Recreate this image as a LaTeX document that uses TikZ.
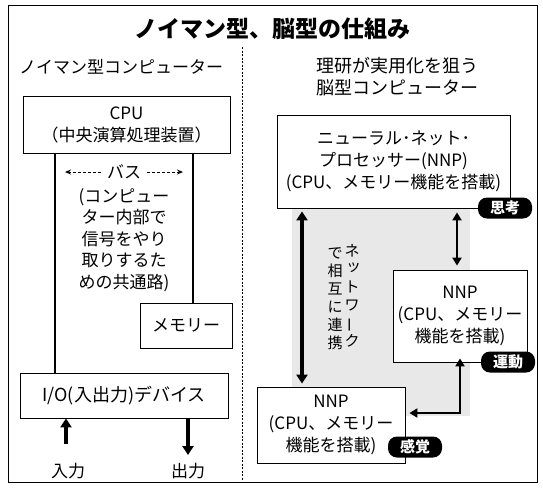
\documentclass[tikz,border=0pt]{standalone}
\usepackage{fontspec}
\setmainfont{Noto Sans CJK JP}
\usetikzlibrary{arrows.meta}
\begin{document}
\begin{tikzpicture}[x=1pt,y=-1pt,
  box/.style={draw,line width=0.8pt,fill=white,align=center,inner sep=0pt,font=\fontsize{17}{22}\selectfont},
  plain/.style={align=center,inner sep=0pt},
  badge/.style={fill=black,text=white,rounded corners=9pt,minimum width=54pt,minimum height=21pt,inner sep=0pt,font=\bfseries\fontsize{15}{15}\selectfont},
  busline/.style={line width=2pt},
  thinarrow/.style={line width=1pt,dash pattern=on 3pt off 2pt,-{Stealth[length=6pt,width=5pt]}},
  thickarrow/.style={line width=3.5pt,-{Triangle[length=9pt,width=11pt]}},
  dblarrow/.style={line width=3.5pt,{Triangle[length=9pt,width=11pt]}-{Triangle[length=9pt,width=11pt]}},
  dblarrowthin/.style={line width=2.5pt,{Triangle[length=8pt,width=9pt]}-{Triangle[length=8pt,width=9pt]}}]
\useasboundingbox (0,0) rectangle (543,491);
\fill[white] (0,0) rectangle (543,491);
% stipple region
\fill[black!9] (292,209) rectangle (470,416);
% frame
\draw[line width=0.9pt] (8,5) rectangle (537,482);
\draw[line width=1pt,dash pattern=on 2pt off 1.5pt] (242,47) -- (242,480);
% title and headings
\node[plain,font=\bfseries\fontsize{23}{23}\selectfont] (title) at (272,29) {ノイマン型、脳型の仕組み};
\node[plain,font=\fontsize{17}{17}\selectfont] (lhead) at (121,67) {ノイマン型コンピューター};
\node[plain,font=\fontsize{18}{22}\selectfont] (rhead) at (397,77) {理研が実用化を狙う\\脳型コンピューター};
% left side
\node[box,minimum width=207pt,minimum height=57pt] (cpu) at (126.5,124.5) {CPU\\（中央演算処理装置）};
\node[box,minimum width=92pt,minimum height=45pt] (mem) at (186,325.5) {メモリー};
\node[box,minimum width=208pt,minimum height=45pt,font=\fontsize{18}{22}\selectfont] (io) at (124,395.5) {I/O(入出力)デバイス};
\coordinate (bl) at (55,0);
\coordinate (br) at (193,0);
\draw[busline] (cpu.south -| bl) -- (io.north -| bl);
\draw[busline] (cpu.south -| br) -- (mem.north -| br);
\node[plain,font=\fontsize{17}{17}\selectfont] (bus) at (124,172) {バス};
\coordinate (busL) at (65,172);
\coordinate (busR) at (183,172);
\draw[thinarrow] (bus.west) ++(-6,0) -- (busL);
\draw[thinarrow] (bus.east) ++(6,0) -- (busR);
\node[plain,font=\fontsize{17}{21.5}\selectfont] (busdesc) at (124,240) {(コンピュー\\ター内部で\\信号をやり\\取りするた\\めの共通路)};
\node[plain,font=\fontsize{17}{17}\selectfont] (in) at (68,471) {入力};
\node[plain,font=\fontsize{17}{17}\selectfont] (out) at (188,471) {出力};
\coordinate (inbot) at (66,444);
\coordinate (outbot) at (188,455);
\draw[thickarrow] (inbot) -- (io.south -| inbot);
\draw[thickarrow] (io.south -| outbot) -- (outbot);
% right side
\node[box,minimum width=233pt,minimum height=93pt] (nnp) at (393.5,161.5) {ニューラル･ネット･\\プロセッサー(NNP)\\(CPU、メモリー機能を搭載)};
\node[box,minimum width=134pt,minimum height=92pt] (nnpr) at (460,316) {NNP\\(CPU、メモリー\\機能を搭載)};
\node[box,minimum width=148pt,minimum height=76pt] (nnpb) at (331,425) {NNP\\(CPU、メモリー\\機能を搭載)};
\node[badge] (think) at (505,208) {思考};
\node[badge] (move) at (508,362) {運動};
\node[badge] (sense) at (415,447) {感覚};
\coordinate (bigx) at (302,0);
\coordinate (smx) at (457,0);
\coordinate (elx) at (460,413);
\draw[dblarrow] ([yshift=-3pt]nnp.south -| bigx) -- ([yshift=3pt]nnpb.north -| bigx);
\draw[dblarrowthin] ([yshift=-4pt]nnp.south -| smx) -- ([yshift=4pt]nnpr.north -| smx);
\draw[dblarrowthin] ([xshift=4pt]nnpb.east |- elx) -- (elx) -- ([yshift=4pt]nnpr.south -| elx);
% vertical text
\node[plain,font=\fontsize{15}{18}\selectfont] (vt1) at (352,296) {ネ\\\hspace*{3pt}\raisebox{3pt}{ッ}\\ト\\ワ\\\rotatebox[origin=c]{90}{ー}\\ク};
\node[plain,font=\fontsize{15}{18}\selectfont] (vt2) at (335,299) {で\\相\\互\\に\\連\\携};
\end{tikzpicture}
\end{document}
